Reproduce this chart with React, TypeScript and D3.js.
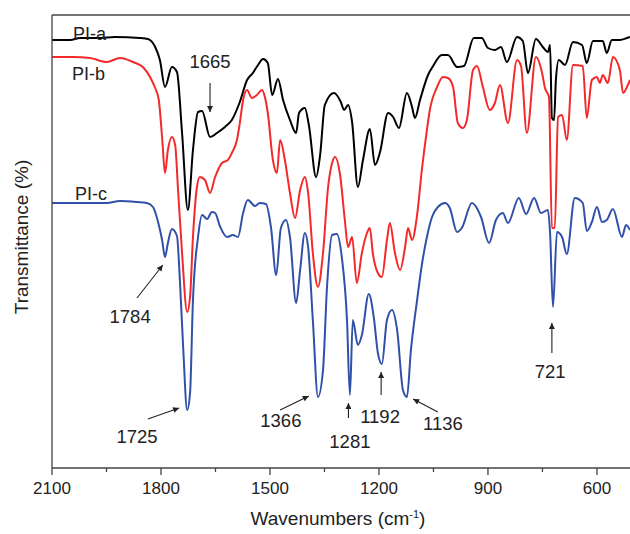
import React from 'react';
import * as d3 from 'd3';

// spectra: [wavenumber (cm-1), transmittance (a.u.)]
const piA: [number, number][] = [
  [2100, 42.8], [2050, 42.8], [2023, 43.0], [1968, 43.0], [1927, 43.1], [1858, 43.0], [1836, 42.9],
  [1816, 42.1], [1803, 40.8], [1789, 38.1], [1770, 40.1], [1756, 39.6], [1742, 33.5], [1726, 25.8],
  [1712, 31.8], [1698, 35.6], [1687, 35.7], [1665, 33.1], [1646, 33.5], [1624, 34.1], [1605, 34.8],
  [1583, 36.6], [1563, 38.8], [1547, 39.5], [1533, 40.3], [1519, 40.9], [1506, 40.5], [1494, 37.3],
  [1478, 38.9], [1464, 36.8], [1445, 34.8], [1428, 33.5], [1420, 35.5], [1404, 36.0], [1393, 34.3],
  [1373, 29.1], [1362, 31.3], [1349, 36.3], [1324, 37.5], [1305, 36.6], [1296, 35.8], [1285, 36.3],
  [1274, 34.6], [1258, 28.1], [1244, 30.8], [1225, 33.9], [1211, 30.3], [1197, 31.6], [1175, 35.5],
  [1161, 35.1], [1145, 34.0], [1123, 37.5], [1109, 36.1], [1101, 35.0], [1087, 36.8], [1065, 39.3],
  [1051, 40.2], [1027, 41.3], [1010, 41.3], [985, 40.1], [966, 40.2], [939, 43.0], [917, 43.0],
  [900, 42.0], [881, 41.8], [864, 42.1], [848, 40.6], [820, 43.1], [804, 42.7], [790, 39.5],
  [768, 42.9], [749, 42.1], [735, 41.6], [729, 42.3], [724, 35.0], [718, 34.8], [713, 38.8],
  [705, 40.8], [688, 40.3], [666, 42.6], [641, 42.3], [628, 40.5], [611, 42.7], [584, 42.7],
  [573, 41.5], [559, 42.8], [537, 42.8], [517, 43.0], [509, 43.1],
];

const piB: [number, number][] = [
  [2100, 41.1], [2042, 41.1], [1995, 41.0], [1949, 40.6], [1913, 41.0], [1877, 40.6], [1850, 40.1],
  [1830, 39.1], [1816, 38.0], [1806, 36.8], [1797, 33.1], [1789, 29.5], [1781, 31.8], [1770, 33.1],
  [1761, 32.3], [1753, 27.8], [1742, 21.5], [1728, 15.6], [1720, 17.1], [1712, 23.1], [1701, 28.1],
  [1693, 29.1], [1679, 28.8], [1665, 27.5], [1651, 29.1], [1632, 30.5], [1616, 30.8], [1605, 31.5],
  [1591, 32.8], [1583, 34.5], [1574, 36.8], [1563, 37.8], [1550, 37.0], [1536, 37.3], [1522, 37.8],
  [1514, 37.1], [1506, 35.5], [1492, 30.8], [1481, 29.5], [1472, 32.8], [1459, 30.8], [1445, 27.5],
  [1431, 25.0], [1417, 27.8], [1404, 29.1], [1395, 27.5], [1382, 21.5], [1368, 18.1], [1354, 21.5],
  [1340, 28.1], [1329, 30.5], [1321, 31.1], [1307, 29.3], [1294, 24.8], [1285, 22.1], [1274, 23.1],
  [1261, 18.5], [1247, 21.5], [1233, 23.5], [1225, 24.0], [1217, 21.5], [1203, 19.5], [1192, 19.1],
  [1178, 22.8], [1170, 24.5], [1156, 21.5], [1142, 19.8], [1128, 22.1], [1120, 24.0], [1109, 22.8],
  [1095, 25.3], [1082, 29.8], [1068, 33.8], [1060, 35.8], [1040, 38.1], [1024, 39.1], [1010, 39.0],
  [996, 38.1], [983, 34.5], [969, 34.0], [958, 34.8], [941, 39.8], [930, 40.2], [914, 38.1],
  [895, 35.8], [881, 36.5], [867, 38.3], [845, 34.5], [820, 40.8], [809, 40.2], [793, 33.5],
  [768, 41.1], [751, 39.5], [743, 38.0], [732, 37.1], [724, 24.0], [716, 24.0], [707, 35.1],
  [696, 35.3], [683, 32.8], [666, 40.3], [639, 40.2], [628, 35.0], [614, 38.8], [600, 39.1],
  [592, 38.5], [584, 39.3], [570, 38.5], [556, 41.1], [537, 39.8], [528, 37.5], [515, 38.3], [509, 38.8],
];

const piC: [number, number][] = [
  [2100, 26.5], [2042, 26.5], [1949, 26.5], [1913, 26.7], [1866, 26.6], [1839, 26.5], [1822, 26.1],
  [1808, 24.6], [1797, 22.8], [1789, 21.1], [1781, 22.5], [1770, 23.9], [1756, 23.2], [1748, 18.8],
  [1739, 12.1], [1728, 5.8], [1720, 7.5], [1712, 16.8], [1698, 23.1], [1687, 25.3], [1673, 24.9],
  [1660, 25.6], [1651, 25.5], [1638, 24.2], [1618, 23.1], [1602, 23.3], [1588, 23.1], [1574, 25.5],
  [1561, 26.8], [1541, 26.2], [1528, 26.5], [1511, 26.4], [1497, 24.0], [1483, 19.3], [1470, 24.0],
  [1456, 24.8], [1445, 23.1], [1428, 16.5], [1417, 19.8], [1404, 23.5], [1395, 22.1], [1382, 14.8],
  [1368, 7.1], [1354, 9.8], [1343, 18.1], [1329, 23.3], [1316, 23.4], [1302, 21.0], [1288, 14.8],
  [1280, 7.3], [1272, 14.8], [1258, 12.3], [1247, 13.3], [1228, 17.4], [1214, 15.0], [1203, 11.5],
  [1192, 10.4], [1178, 14.8], [1164, 15.8], [1150, 13.8], [1134, 7.8], [1123, 7.1], [1112, 11.8],
  [1095, 16.8], [1082, 20.3], [1068, 23.1], [1054, 25.1], [1038, 26.1], [1018, 26.5], [1005, 26.0],
  [985, 23.6], [972, 24.0], [944, 26.5], [919, 25.1], [897, 22.5], [878, 24.8], [859, 25.5],
  [845, 24.5], [815, 27.0], [795, 25.4], [773, 27.0], [754, 25.5], [735, 25.8], [729, 23.5],
  [721, 16.1], [710, 23.6], [696, 23.1], [683, 21.4], [661, 27.0], [639, 26.5], [628, 23.7],
  [614, 24.6], [600, 26.1], [586, 24.6], [573, 24.8], [556, 25.9], [531, 23.1], [520, 24.3], [509, 23.8],
];

const seriesNames = ['PI-a', 'PI-b', 'PI-c'];
const seriesColors = ['#000000', '#f42a2a', '#3150a8'];
// name label anchors [wavenumber, value]
const nameAnchors: [number, number][] = [[2042, 42.8], [2045, 38.8], [2037, 26.8]];

const majorTicks = [2100, 1800, 1500, 1200, 900, 600];
const minorTicks = [1950, 1650, 1350, 1050, 750];

// peak annotations: label position, arrow tail, arrow head  [wavenumber, value]
const peakLabels = ['1665', '1784', '1725', '1366', '1281', '1192', '1136', '721'];
const labelPos: [number, number][] = [
  [1665, 40.0], [1885, 14.5], [1866, 2.5], [1470, 4.1], [1280, 2.0], [1197, 4.5], [1024, 3.8], [729, 9.0],
];
const arrowTail: [number, number][] = [
  [1665, 38.5], [1866, 17.0], [1836, 4.9], [1472, 5.8], [1284, 5.0], [1194, 7.3], [1038, 5.6], [724, 11.5],
];
const arrowHead: [number, number][] = [
  [1665, 35.6], [1795, 20.3], [1750, 6.0], [1393, 7.2], [1284, 6.5], [1194, 9.6], [1106, 6.9], [724, 14.5],
];

const W = 630;
const H = 534;
const left = 52;
const right = 630;
const top = 15;
const bottom = 468;

export default function App() {
  const x = d3.scaleLinear().domain([2100, 509]).range([left, right]);
  const y = d3.scaleLinear().domain([0, 45.3]).range([bottom, top]);
  const line = d3
    .line<[number, number]>()
    .x((d) => x(d[0]))
    .y((d) => y(d[1]))
    .curve(d3.curveMonotoneX);
  const spectra = [piA, piB, piC];
  const font = 'Arial, "Liberation Sans", Helvetica, sans-serif';

  return (
    <svg
      width={W}
      height={H}
      style={{ position: 'absolute', left: 0, top: 0, background: '#fff' }}
      fontFamily={font}
    >
      <defs>
        <marker id="arr" viewBox="0 0 10 10" refX="10" refY="5" markerWidth="9" markerHeight="6"
          markerUnits="userSpaceOnUse" orient="auto">
          <path d="M0,0 L10,5 L0,10 z" fill="#222" />
        </marker>
        <clipPath id="plot">
          <rect x={left} y={top} width={right - left} height={bottom - top} />
        </clipPath>
      </defs>

      <g clipPath="url(#plot)">
        {spectra.map((s, i) => (
          <path key={i} d={line(s) || ''} fill="none" stroke={seriesColors[i]} strokeWidth={2}
            strokeLinejoin="round" />
        ))}
      </g>

      {/* frame */}
      <line x1={left} x2={right + 2} y1={top} y2={top} stroke="#444" strokeWidth={1.3} />
      <line x1={left} x2={left} y1={top} y2={bottom} stroke="#444" strokeWidth={1.3} />
      <line x1={left} x2={right + 2} y1={bottom} y2={bottom} stroke="#444" strokeWidth={1.5} />

      {majorTicks.map((t) => (
        <g key={t} transform={`translate(${x(t)},${bottom})`}>
          <line y1={0} y2={7} stroke="#444" strokeWidth={1.3} />
          <text y={26} textAnchor="middle" fontSize={17} fill="#222">{t}</text>
        </g>
      ))}
      {minorTicks.map((t) => (
        <line key={t} x1={x(t)} x2={x(t)} y1={bottom} y2={bottom + 4} stroke="#444" strokeWidth={1.3} />
      ))}

      <text x={338} y={525} textAnchor="middle" fontSize={19} fill="#222">
        Wavenumbers (cm<tspan dy={-7} fontSize={11}>-1</tspan><tspan dy={7}>)</tspan>
      </text>
      <text transform={`translate(28,237) rotate(-90)`} textAnchor="middle" fontSize={19} fill="#222">
        Transmittance (%)
      </text>

      {seriesNames.map((n, i) => (
        <text key={n} x={x(nameAnchors[i][0])} y={y(nameAnchors[i][1])} fontSize={18} fill="#222">{n}</text>
      ))}

      {peakLabels.map((p, i) => (
        <g key={p}>
          <line x1={x(arrowTail[i][0])} y1={y(arrowTail[i][1])} x2={x(arrowHead[i][0])} y2={y(arrowHead[i][1])}
            stroke="#222" strokeWidth={1.1} markerEnd="url(#arr)" />
          <text x={x(labelPos[i][0])} y={y(labelPos[i][1])} textAnchor="middle" fontSize={18.5} fill="#222">{p}</text>
        </g>
      ))}
    </svg>
  );
}
